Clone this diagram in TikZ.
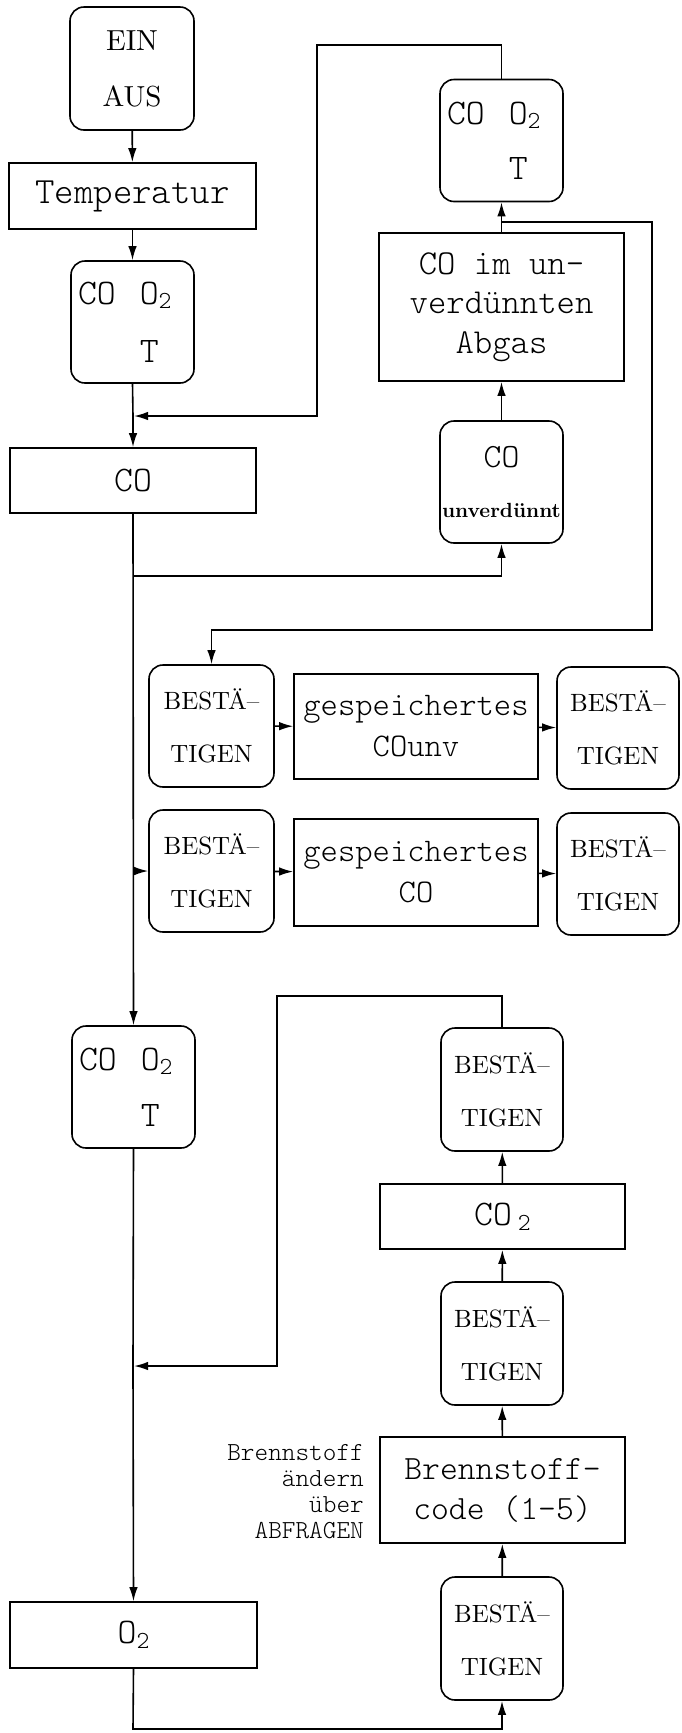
\documentclass[tikz,border=0pt]{standalone}
\usepackage{fontspec}
\setmonofont{lmmonolt10-regular}[Extension=.otf]
\newfontfamily\romten{lmroman10-regular}[Extension=.otf, BoldFont=lmroman10-bold]
\usetikzlibrary{arrows.meta}
\newcommand\subtw{\raisebox{-0.3ex}{\scalebox{0.68}{2}}}
\newcommand\cotxt{CO\ \hspace{12pt}O\subtw\\\hphantom{CO\ }\hspace{12pt}T}
\tikzset{
  base/.style={draw, line width=1.6pt, inner sep=0pt, align=center},
  rbox/.style={base, rounded corners=14pt},
  sbox/.style={base},
  ttf/.style={font=\ttfamily\fontsize{#1}{#1}\selectfont},
  besta/.style={rbox, minimum height=122pt, font=\romten\fontsize{25}{53}\selectfont},
  cotbox/.style={rbox, minimum width=123pt, minimum height=122pt, text width=109pt, align=left, inner xsep=7pt, font=\ttfamily\fontsize{36}{#1}\selectfont},
  conn/.style={line width=1.6pt},
  arr/.style={conn, -{Latex[length=14pt,width=8.5pt]}},
}
\begin{document}
\begin{tikzpicture}[x=1pt,y=-1pt]
\useasboundingbox (0,0) rectangle (681,1733);
% left column
\node[rbox, minimum width=124pt, minimum height=123pt, font=\romten\fontsize{29}{56}\selectfont] (ein) at (132,68.5) {EIN\\AUS};
\node[sbox, minimum width=247pt, minimum height=66pt, ttf=37] (temp) at (132.5,196) {Temperatur};
\node[cotbox=58] (cot1) at (132.5,322) {\cotxt};
\node[sbox, minimum width=246pt, minimum height=65pt, ttf=36] (co) at (133,480.5) {CO};
% right top column
\node[cotbox=55] (cot2) at (501.5,140.5) {\cotxt};
\node[sbox, minimum width=245pt, minimum height=148pt, font=\ttfamily\fontsize{35}{39.5}\selectfont] (abgas) at (501.5,307) {CO im un–\\verdünnten\\Abgas};
\node[rbox, minimum width=123pt, minimum height=122pt] (counv) at (501.5,482) {\ttfamily\fontsize{34}{34}\selectfont CO\\[34pt]\romten\bfseries\fontsize{20.5}{21}\selectfont unverdünnt};
% stored rows
\node[besta, minimum width=125pt] (b1) at (211.5,726) {BESTÄ–\\TIGEN};
\node[sbox, minimum width=244pt, minimum height=105pt, font=\ttfamily\fontsize{33}{41}\selectfont] (g1) at (416,726.5) {gespeichertes\\COunv};
\node[besta, minimum width=122pt] (b2) at (618,728) {BESTÄ–\\TIGEN};
\node[besta, minimum width=125pt] (b3) at (211.5,871) {BESTÄ–\\TIGEN};
\node[sbox, minimum width=244pt, minimum height=107pt, font=\ttfamily\fontsize{33}{41}\selectfont] (g2) at (416,872.5) {gespeichertes\\CO};
\node[besta, minimum width=122pt] (b4) at (618,874) {BESTÄ–\\TIGEN};
% lower left
\node[cotbox=56] (cot3) at (133.5,1087) {\cotxt};
\node[sbox, minimum width=247pt, minimum height=66pt, ttf=36] (o2) at (133.5,1635) {O\subtw};
% lower right column
\node[besta, minimum width=122pt, minimum height=123pt] (bt1) at (502,1089.5) {BESTÄ–\\TIGEN};
\node[sbox, minimum width=245pt, minimum height=65pt, ttf=36] (co2) at (502.5,1216.5) {CO\,\subtw};
\node[besta, minimum width=122pt, minimum height=123pt] (bt2) at (502,1343.5) {BESTÄ–\\TIGEN};
\node[sbox, minimum width=245pt, minimum height=106pt, font=\ttfamily\fontsize{34}{40}\selectfont] (brenn) at (502.5,1490) {Brennstoff–\\code (1–5)};
\node[besta, minimum width=122pt, minimum height=123pt] (bt3) at (502,1638.5) {BESTÄ–\\TIGEN};
\node[align=right, anchor=east, inner sep=0pt, font=\ttfamily\fontsize{26}{26}\selectfont] (lab) at (364,1492) {Brennstoff\\ändern\\über\\ABFRAGEN};
% coordinates
\coordinate (j1) at (133,416);
\coordinate (j2) at (133,1366);
\coordinate (s1) at (133,576);
\coordinate (s2) at (133,871);
\coordinate (r1) at (502,222);
% connectors
\draw[arr] (ein) -- (temp);
\draw[arr] (temp) -- (cot1);
\draw[conn] (cot1.south) -- (j1);
\draw[arr] (j1) -- (co.north);
\draw[arr] (cot2.north) |- (317,45) -- (317,416) -- ([xshift=1pt]j1);
\draw[arr] (counv) -- (abgas);
\draw[arr] (abgas) -- (cot2);
\draw[arr] (r1) -| (652,630) -| (b1.north);
\draw[arr] (co.south) -- (cot3.north);
\draw[arr] (s1) -| (counv.south);
\draw[arr] (s2) -- (b3.west);
\draw[arr] (b1) -- (g1);
\draw[arr] (g1) -- (b2);
\draw[arr] (b3) -- (g2);
\draw[arr] (g2) -- (b4);
\draw[conn] (cot3.south) -- (j2);
\draw[arr] (j2) -- (o2.north);
\draw[arr] (bt1.north) |- (277,996) -- (277,1366) -- ([xshift=1pt]j2);
\draw[arr] (o2.south) -- (133,1729) -| (bt3.south);
\draw[arr] (bt3) -- (brenn);
\draw[arr] (brenn) -- (bt2);
\draw[arr] (bt2) -- (co2);
\draw[arr] (co2) -- (bt1);
\end{tikzpicture}
\end{document}
